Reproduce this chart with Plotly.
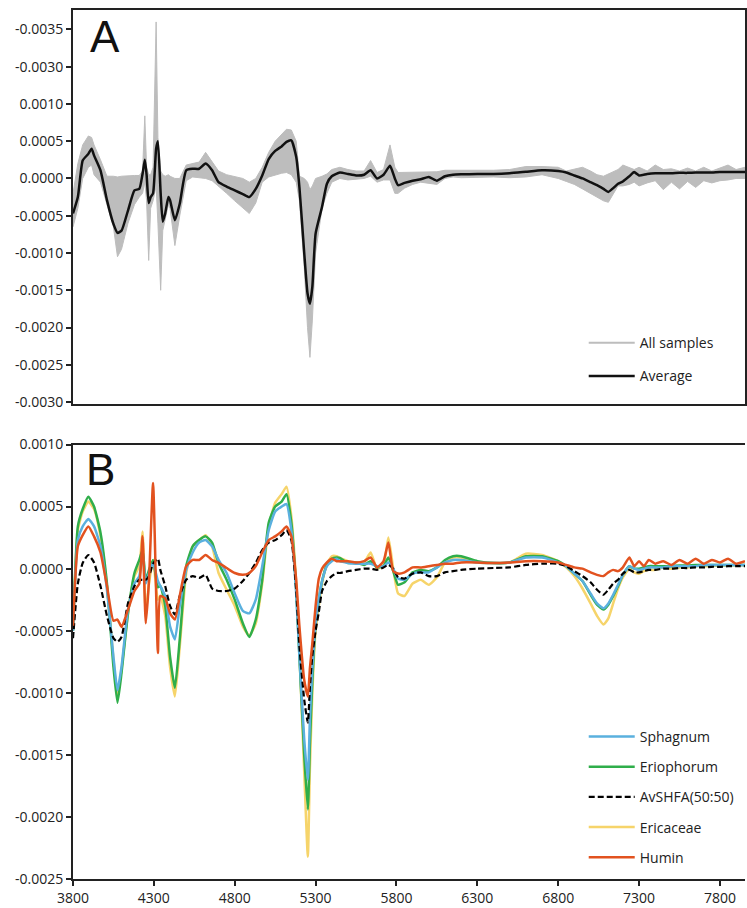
import numpy as np
import plotly.graph_objects as go
from plotly.subplots import make_subplots

SCALE = 1e-4  # all spectral values below are stored in units of 1e-4

# ---------------- Panel A: all samples (envelope) and average ----------------
wn_a = [3800, 3830, 3860, 3895, 3915, 3930, 3970, 4010, 4050, 4075,
        4100, 4140, 4180, 4210, 4230, 4244, 4255, 4268, 4280, 4295,
        4314, 4325, 4342, 4355, 4370, 4390, 4400, 4430, 4460, 4500,
        4540, 4580, 4620, 4660, 4700, 4750, 4800, 4850, 4890, 4930,
        4970, 5010, 5050, 5090, 5120, 5150, 5180, 5200, 5230, 5250,
        5265, 5280, 5300, 5340, 5370, 5400, 5450, 5500, 5550, 5600,
        5640, 5680, 5720, 5760, 5790, 5810, 5850, 5900, 5950, 6000,
        6050, 6100, 6150, 6200, 6300, 6400, 6500, 6600, 6700, 6800,
        6850, 6900, 6950, 7000, 7040, 7080, 7110, 7140, 7170, 7200,
        7240, 7270, 7300, 7350, 7400, 7450, 7500, 7550, 7600, 7650,
        7700, 7750, 7800, 7850, 7900, 7955]

average = [-4.7, -2.5, 2.4, 3.3, 4.0, 3.1, 1.1, -2.9, -6.1, -7.3,
           -7.0, -4.3, -1.6, -1.4, 0.6, 2.5, 0.5, -3.3, -2.5, -2.0,
           4.0, 5.0, -2.0, -5.8, -4.7, -2.5, -2.9, -5.6, -3.4, 1.1,
           1.3, 1.3, 2.0, 1.1, -0.5, -1.1, -1.6, -2.1, -2.5, -1.4,
           0.4, 2.6, 3.7, 4.3, 4.9, 5.1, 2.9, -1.2, -10.1, -15.4,
           -16.8, -14.5, -7.4, -3.8, -0.7, 0.3, 0.8, 0.6, 0.4, 0.5,
           1.1, 0.0, 0.5, 1.7, 0.0, -0.9, -0.6, -0.3, -0.1, 0.2,
           -0.3, 0.3, 0.5, 0.55, 0.6, 0.6, 0.7, 0.9, 1.1, 1.0,
           0.8, 0.4, 0.0, -0.5, -0.9, -1.4, -1.8, -1.3, -0.7, -0.4,
           0.3, 0.85, 0.4, 0.6, 0.7, 0.7, 0.7, 0.75, 0.75, 0.8,
           0.8, 0.8, 0.85, 0.85, 0.85, 0.85]

samples_max = [-2.0, 2.0, 4.5, 5.7, 5.5, 4.5, 2.5, 0.3, 0.3, 0.2,
               0.3, 0.4, 0.4, 0.4, 1.0, 8.4, 1.5, 0.5, 0.5, 1.5,
               21.0, 5.5, 1.0, 0.5, 0.3, 0.5, 0.3, 0.0, 0.0, 1.8,
               2.0, 2.2, 3.5, 2.2, 1.0, 0.5, 0.3, 0.0, -0.5, 0.0,
               1.5, 3.5, 5.0, 6.0, 6.6, 6.5, 5.0, 0.3, 0.0, -0.5,
               -1.5, -1.0, 0.0, 0.3, 0.6, 1.2, 1.5, 1.2, 1.0, 1.0,
               2.4, 0.8, 1.2, 4.5, 1.5, 0.8, 0.8, 0.8, 0.9, 0.9,
               0.9, 1.1, 1.1, 1.0, 1.0, 1.1, 1.2, 1.6, 1.6, 1.5,
               1.0, 1.3, 1.5, 1.0, 0.5, 0.3, 0.6, 1.0, 1.2, 1.8,
               1.5, 1.2, 1.5, 1.0, 1.8, 1.2, 1.3, 1.0, 1.4, 1.0,
               1.5, 1.0, 1.4, 1.8, 1.2, 1.5]

samples_min = [-6.5, -4.0, 0.0, 1.5, 1.8, 0.5, -0.5, -3.5, -6.5, -10.5,
               -9.5, -6.0, -3.5, -2.5, -2.0, -0.5, -3.0, -11.0, -4.0, -3.0,
               -1.0, -6.0, -15.0, -7.0, -5.5, -3.5, -4.0, -9.0, -5.0, -0.3,
               0.2, 0.1, 0.0, -0.3, -1.0, -2.0, -3.0, -4.0, -4.7, -3.3,
               -0.5, 0.2, 0.5, 0.7, 0.8, 0.5, -0.5, -3.0, -12.0, -20.0,
               -24.0, -19.0, -10.0, -4.0, -2.0, -0.5, 0.0, -0.2, -0.1, 0.0,
               0.3, -0.5, -0.2, -0.2, -2.0, -2.0, -1.3, -0.8, -0.5, -0.6,
               -0.8, 0.0, 0.2, 0.1, 0.2, 0.2, 0.1, 0.2, 0.5, 0.0,
               -0.4, -0.8, -1.4, -2.0, -2.5, -3.0, -3.2, -2.0, -1.0, -1.0,
               -0.8, -0.5, -1.0, -0.6, -0.3, -1.5, -0.5, -1.4, -0.4, -1.2,
               -0.3, -0.6, -0.3, -0.2, 0.0, 0.0]

# ---------------- Panel B: reference materials ----------------
wn_b = [3800, 3830, 3860, 3895, 3930, 3970, 4010, 4050, 4075, 4100,
        4140, 4180, 4210, 4230, 4250, 4270, 4295, 4325, 4340, 4370,
        4400, 4430, 4460, 4500, 4540, 4580, 4620, 4660, 4700, 4750,
        4800, 4850, 4890, 4930, 4970, 5010, 5050, 5090, 5120, 5150,
        5180, 5200, 5230, 5252, 5265, 5280, 5300, 5320, 5340, 5370,
        5400, 5430, 5450, 5500, 5550, 5600, 5640, 5680, 5720, 5750,
        5780, 5810, 5850, 5900, 5950, 6000, 6050, 6100, 6150, 6200,
        6300, 6400, 6500, 6600, 6700, 6800, 6850, 6900, 6950, 7000,
        7040, 7080, 7110, 7140, 7170, 7200, 7240, 7270, 7300, 7330,
        7360, 7400, 7450, 7500, 7550, 7600, 7650, 7700, 7750, 7800,
        7850, 7900, 7955]

sphagnum = [-5.0, 2.3, 3.4, 4.0, 3.4, 1.8, -1.7, -7.1, -9.8, -7.9,
            -3.3, -1.2, -0.6, 1.3, -1.2, -0.35, 0.46, -1.0, -1.4, -2.2,
            -4.65, -5.7, -3.0, -0.1, 1.3, 2.1, 2.3, 1.8, 0.7, -0.35,
            -2.0, -3.4, -3.6, -2.5, 0.2, 3.1, 4.6, 5.0, 5.2, 3.1,
            -2.0, -7.1, -13.8, -17.0, -12.0, -8.0, -4.5, -2.5, -1.0, 0.2,
            0.6, 0.8, 0.6, 0.46, 0.4, 0.4, 0.4, 0.2, 0.2, 0.5,
            0.0, -0.8, -0.9, -0.4, -0.3, -0.3, 0.1, 0.5, 0.7, 0.7,
            0.5, 0.45, 0.5, 0.9, 0.9, 0.5, 0.2, -0.4, -1.0, -2.0,
            -2.8, -3.2, -2.8, -2.1, -1.3, -0.5, 0.2, 0.0, -0.1, 0.0,
            0.1, 0.1, 0.1, 0.2, 0.2, 0.2, 0.2, 0.3, 0.3, 0.3,
            0.3, 0.3, 0.3]

eriophorum = [-5.0, 3.4, 4.8, 5.8, 5.0, 2.9, -1.2, -7.9, -10.8, -8.4,
              -3.6, -0.35, 0.7, 1.5, -0.9, -0.1, 0.7, -1.5, -1.4, -3.0,
              -7.1, -9.6, -5.7, 0.2, 1.8, 2.3, 2.6, 2.1, 0.46, -0.9,
              -2.5, -4.4, -5.5, -4.1, -0.9, 3.7, 5.0, 5.4, 6.0, 3.7,
              -1.7, -7.1, -15.1, -19.4, -14.0, -9.0, -4.5, -2.5, -1.0, 0.3,
              0.8, 0.9, 0.86, 0.46, 0.5, 0.3, 0.6, 0.1, 0.2, 0.9,
              -0.2, -1.3, -1.1, -0.3, -0.1, -0.2, 0.1, 0.7, 1.0, 1.0,
              0.6, 0.45, 0.5, 1.0, 1.0, 0.6, 0.2, -0.4, -1.0, -2.1,
              -2.9, -3.3, -2.9, -2.2, -1.4, -0.5, 0.2, 0.0, 0.0, 0.1,
              0.2, 0.2, 0.2, 0.2, 0.25, 0.25, 0.3, 0.3, 0.3, 0.3,
              0.3, 0.3, 0.3]

avshfa = [-5.6, -1.2, 0.46, 1.1, 0.5, -1.4, -3.8, -5.6, -5.9, -5.5,
          -2.8, -1.4, -0.9, -0.9, -0.9, -0.6, 0.4, 0.8, -0.1, -1.4,
          -3.0, -3.7, -2.2, -0.9, -0.6, -0.75, -0.5, -1.6, -1.8, -1.8,
          -1.6, -1.0, -0.35, 0.46, 1.5, 2.1, 2.3, 2.7, 3.1, 2.3,
          -1.7, -6.3, -10.6, -12.4, -9.5, -7.0, -5.0, -3.5, -1.8, -1.0,
          -0.6, -0.35, -0.35, -0.2, -0.1, 0.0, 0.0, -0.1, 0.1, 0.3,
          0.0, -0.7, -0.8, -0.4, -0.3, -0.6, -0.6, -0.3, -0.2, -0.1,
          0.0, 0.05, 0.1, 0.3, 0.4, 0.4, 0.2, -0.2, -0.6, -1.1,
          -1.7, -2.1, -1.7, -1.2, -0.9, -0.4, -0.1, -0.3, -0.3, -0.2,
          -0.1, -0.1, 0.0, 0.0, 0.05, 0.05, 0.1, 0.1, 0.15, 0.15,
          0.2, 0.2, 0.2]

ericaceae = [-4.8, 3.1, 4.6, 5.4, 4.8, 2.6, -1.4, -7.3, -10.3, -8.1,
             -3.6, -0.6, 0.2, 3.0, -3.6, -1.2, 0.7, -2.5, -2.2, -3.8,
             -7.9, -10.3, -6.3, -0.35, 1.8, 2.3, 2.7, 1.8, -0.35, -1.7,
             -3.0, -4.65, -5.4, -4.4, -1.2, 3.4, 5.3, 6.0, 6.6, 4.2,
             -1.2, -6.8, -16.5, -23.2, -16.0, -10.0, -5.0, -3.0, -1.2, 0.4,
             1.0, 1.0, 0.86, 0.6, 0.4, 0.5, 1.3, 0.0, 0.3, 2.5,
             0.0, -2.0, -2.2, -1.2, -0.9, -1.3, -0.7, 0.5, 0.9, 0.9,
             0.5, 0.45, 0.5, 1.2, 1.1, 0.6, 0.1, -0.6, -1.6, -2.8,
             -3.8, -4.5, -4.0, -2.8, -1.6, -0.7, 0.0, -0.3, -0.4, -0.2,
             -0.1, -0.1, 0.1, 0.0, 0.1, 0.1, 0.2, 0.2, 0.2, 0.25,
             0.25, 0.3, 0.3]

humin = [-4.6, 1.8, 2.7, 3.4, 2.6, 1.3, -1.4, -4.2, -4.1, -4.7,
         -3.3, -1.8, -1.2, 2.6, -4.4, -0.9, 6.9, -6.8, -2.2, -2.4,
         -3.6, -4.1, -2.2, 0.2, 0.7, 0.7, 1.1, 0.7, 0.46, 0.05,
         -0.35, -0.5, -0.35, 0.2, 1.3, 2.3, 2.6, 3.0, 3.4, 2.6,
         -0.9, -4.65, -9.0, -10.3, -8.0, -6.0, -3.0, -0.8, 0.0, 0.5,
         0.8, 0.6, 0.6, 0.6, 0.5, 0.6, 0.9, 0.1, 0.6, 2.1,
         -0.2, -0.4, -0.3, 0.1, 0.1, 0.2, 0.3, 0.4, 0.4, 0.5,
         0.5, 0.45, 0.5, 0.6, 0.6, 0.5, 0.3, 0.1, 0.0, -0.3,
         -0.5, -0.6, -0.3, -0.1, -0.2, 0.1, 0.9, 0.2, 0.6, 0.2,
         0.7, 0.4, 0.6, 0.3, 0.7, 0.4, 0.8, 0.4, 0.7, 0.5,
         0.8, 0.4, 0.6]

# tick labels as printed on the original figure
ticks_a = [0.0020, 0.0015, 0.0010, 0.0005, 0.0, -0.0005, -0.0010,
           -0.0015, -0.0020, -0.0025, -0.0030]
ticktext_a = ["-0.0035", "-0.0030", "0.0010", "0.0005", "0.0000", "-0.0005",
              "-0.0010", "-0.0015", "-0.0020", "-0.0025", "-0.0030"]
ticks_b = [0.0010, 0.0005, 0.0, -0.0005, -0.0010, -0.0015, -0.0020, -0.0025]
ticktext_b = ["0.0010", "0.0005", "0.0000", "-0.0005", "-0.0010", "-0.0015",
              "-0.0020", "-0.0025"]
ticks_x = [3800, 4300, 4800, 5300, 5800, 6300, 6800, 7300, 7800]

for arr in (average, samples_max, samples_min):
    assert len(arr) == len(wn_a), len(arr)
for arr in (sphagnum, eriophorum, avshfa, ericaceae, humin):
    assert len(arr) == len(wn_b), len(arr)


def sc(v):
    return np.array(v) * SCALE


GRAY = "#bdbdbd"
FONT = "Open Sans"

fig = make_subplots(rows=2, cols=1, vertical_spacing=0.0)

# Panel A -------------------------------------------------------------
fig.add_trace(go.Scatter(x=wn_a, y=sc(samples_min), mode="lines",
                         line=dict(color=GRAY, width=1), showlegend=False,
                         hoverinfo="skip"), row=1, col=1)
fig.add_trace(go.Scatter(x=wn_a, y=sc(samples_max), mode="lines",
                         line=dict(color=GRAY, width=1), fill="tonexty",
                         fillcolor=GRAY, showlegend=False,
                         hoverinfo="skip"), row=1, col=1)
fig.add_trace(go.Scatter(x=[None], y=[None], mode="lines", name="All samples",
                         line=dict(color=GRAY, width=2), legend="legend",
                         legendgroup="a1"), row=1, col=1)
fig.add_trace(go.Scatter(x=wn_a, y=sc(average), mode="lines", name="Average",
                         line=dict(color="#111111", width=2.5, shape="spline",
                                   smoothing=0.5),
                         legend="legend", legendgroup="a2"), row=1, col=1)

# Panel B -------------------------------------------------------------
series_b = [
    ("Ericaceae", ericaceae, "#f6d46a", "solid", 4),
    ("Eriophorum", eriophorum, "#2fae4a", "solid", 2),
    ("Sphagnum", sphagnum, "#5ab0de", "solid", 1),
    ("AvSHFA(50:50)", avshfa, "#000000", "6px,3px", 3),
    ("Humin", humin, "#e2521f", "solid", 5),
]
for name, vals, color, dash, rank in series_b:
    fig.add_trace(go.Scatter(x=wn_b, y=sc(vals), mode="lines", name=name,
                             line=dict(color=color,
                                       width=2.5 if dash == "solid" else 2.2,
                                       dash=dash, shape="spline", smoothing=0.5),
                             legend="legend2", legendgroup=name,
                             legendrank=rank), row=2, col=1)

axis_line = dict(showline=True, linecolor="#222222", linewidth=2,
                 showgrid=False, zeroline=False)

fig.update_xaxes(range=[3800, 7955], **axis_line)
fig.update_xaxes(row=1, col=1, mirror=True, showticklabels=False, ticks="",
                 domain=[0, 1])
fig.update_xaxes(row=2, col=1, mirror=True, ticks="outside", ticklen=5,
                 tickwidth=1.5, tickcolor="#222222", tickvals=ticks_x,
                 tickfont=dict(family=FONT, size=14, color="#222222"))

fig.update_yaxes(**axis_line)
fig.update_yaxes(row=1, col=1, range=[-0.00302, 0.00226], mirror=True,
                 domain=[0.5471, 1.0], tickvals=ticks_a, ticktext=ticktext_a,
                 ticks="outside", ticklen=5, tickwidth=1.5, tickcolor="#222222",
                 tickfont=dict(family=FONT, size=14, color="#222222"))
fig.update_yaxes(row=2, col=1, range=[-0.0025, 0.0010], mirror=False,
                 domain=[0.0, 0.5], tickvals=ticks_b, ticktext=ticktext_b,
                 ticks="outside", ticklen=5, tickwidth=1.5, tickcolor="#222222",
                 tickfont=dict(family=FONT, size=14, color="#222222"))

legend_font = dict(family=FONT, size=14, color="#222222")
fig.update_layout(
    width=747, height=908,
    margin=dict(l=73, r=0, t=9, b=29),
    paper_bgcolor="white", plot_bgcolor="white",
    legend=dict(x=0.760, y=0.635, xanchor="left", yanchor="top",
                font=legend_font, bgcolor="rgba(0,0,0,0)",
                tracegroupgap=12, itemwidth=46),
    legend2=dict(x=0.760, y=0.182, xanchor="left", yanchor="top",
                 font=legend_font, bgcolor="rgba(0,0,0,0)",
                 tracegroupgap=9, itemwidth=46),
    annotations=[
        dict(text="A", x=0.022, y=1.0 - (36 - 9) / 870, xref="paper", yref="paper",
             xanchor="left", yanchor="middle", showarrow=False,
             font=dict(family="Liberation Sans", size=44, color="#111111")),
        dict(text="B", x=0.016, y=(879 - 469) / 870, xref="paper", yref="paper",
             xanchor="left", yanchor="middle", showarrow=False,
             font=dict(family="Liberation Sans", size=44, color="#111111")),
    ],
)

fig.write_html("out.html")
